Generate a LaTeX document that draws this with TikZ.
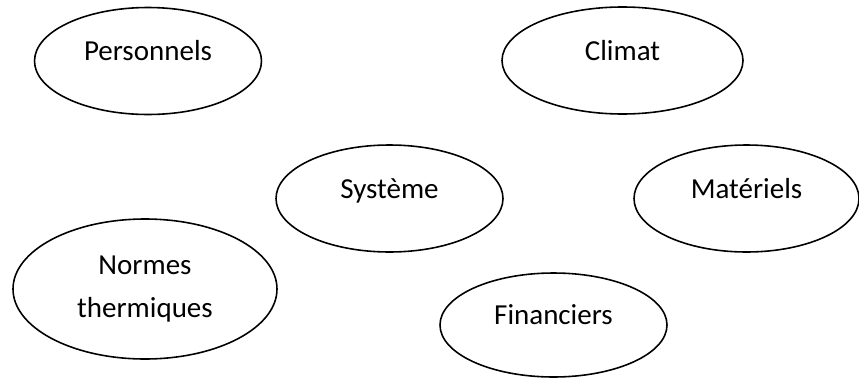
\documentclass[tikz,border=0pt]{standalone}
\usepackage{fontspec}
\setmainfont{Carlito}
\usetikzlibrary{shapes.geometric}
\tikzset{
    facteur/.style={draw, ellipse, line width=0.9pt, inner sep=0pt, font=\fontsize{16.5}{24.5}\selectfont},
    uneligne/.style={facteur, text height=0.40cm, text depth=0.42cm},
}
\begin{document}
\begin{tikzpicture}
    \useasboundingbox (0,0) rectangle (17.18,-7.56);
    \node[uneligne, minimum width=4.54cm, minimum height=2.14cm] (personnels) at (2.96,-1.22) {Personnels};
    \node[uneligne, minimum width=4.82cm, minimum height=2.14cm] (climat) at (12.45,-1.21) {Climat};
    \node[uneligne, minimum width=4.54cm, minimum height=2.14cm] (systeme) at (7.79,-3.97) {Système};
    \node[uneligne, minimum width=4.50cm, minimum height=2.14cm] (materiels) at (14.93,-3.97) {Matériels};
    \node[uneligne, minimum width=4.54cm, minimum height=2.08cm] (financiers) at (11.07,-6.50) {Financiers};
    \node[facteur, align=center, minimum width=5.28cm, minimum height=2.80cm] (normes) at (2.90,-5.78) {Normes\\thermiques};
\end{tikzpicture}
\end{document}
